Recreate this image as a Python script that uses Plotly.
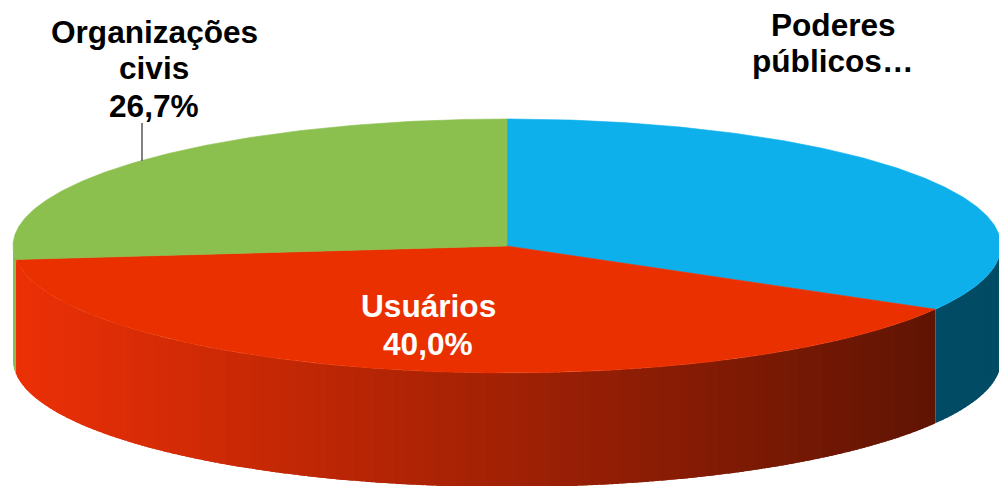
import numpy as np
import plotly.graph_objects as go

# ---- data ----
categories = ["Poderes públicos…", "Usuários", "Organizações civis"]
values = [33.3, 40.0, 26.7]
name_lines = [["Poderes", "públicos…"], ["Usuários"], ["Organizações", "civis"]]
show_pct = [False, True, True]

# ---- style / geometry ----
top_colors = ["#0EB0EC", "#EB3000", "#8BC04F"]
side_colors = [((2, 75, 100), (2, 75, 100)), ((236, 48, 6), (96, 20, 4)), ((134, 186, 74), (134, 186, 74))]
label_colors = ["#000000", "#FFFFFF", "#000000"]
label_x = [833, 428, 154]
label_baselines = [[36, 72], [317, 355], [43, 79, 117]]
FONT = "Liberation Sans, Arial, sans-serif"
FS = 31.6
CX, CY, A, B, DEPTH = 507, 246, 494, 127, 114
X_LEFT, X_RIGHT = 15, 935


def pts(t0, t1, dy=0.0, n=None):
    if n is None:
        n = max(2, int(abs(t0 - t1) * 2) + 1)
    th = np.radians(np.linspace(t0, t1, n))
    return CX + A * np.cos(th), CY - B * np.sin(th) + dy


def mix(c0, c1, f):
    f = min(max(f, 0.0), 1.0)
    return "rgb(%d,%d,%d)" % tuple(round(a + (b - a) * f) for a, b in zip(c0, c1))


fig = go.Figure()
total = sum(values)
angles = []
t = 90.0
for v in values:
    t1 = t - 360.0 * v / total
    angles.append((t, t1))
    t = t1

# side walls (front half only), drawn in overlapping thin strips for gradient
for i, (t0, t1) in enumerate(angles):
    hi, lo = min(t0, 0.0), max(t1, -180.0)
    if hi <= lo:
        continue
    nstrip = max(1, int((hi - lo) / 1.2))
    edges = np.linspace(lo, hi, nstrip + 1)  # left to right
    for k in range(nstrip):
        a0 = edges[k]
        a1 = min(edges[k + 1] + 1.0, hi)
        xt, yt = pts(a0, a1, 0, 6)
        xb, yb = pts(a1, a0, DEPTH, 6)
        xm = CX + A * np.cos(np.radians((edges[k] + edges[k + 1]) / 2))
        c = mix(side_colors[i][0], side_colors[i][1], (xm - X_LEFT) / (X_RIGHT - X_LEFT))
        fig.add_trace(go.Scatter(
            x=np.concatenate([xt, xb, xt[:1]]), y=np.concatenate([yt, yb, yt[:1]]),
            mode="lines", fill="toself", fillcolor=c, line=dict(color=c, width=0),
            hoverinfo="skip", showlegend=False))

# top faces
for i, (t0, t1) in enumerate(angles):
    xa, ya = pts(t0, t1)
    fig.add_trace(go.Scatter(
        x=np.concatenate([[CX], xa, [CX]]), y=np.concatenate([[CY], ya, [CY]]),
        mode="lines", fill="toself", fillcolor=top_colors[i],
        line=dict(color=top_colors[i], width=0.6),
        name=categories[i], hoverinfo="name", showlegend=False))

# labels
for i, cat in enumerate(categories):
    lines = list(name_lines[i])
    if show_pct[i]:
        lines.append(f"{values[i]:.1f}".replace(".", ",") + "%")
    for ln, base in zip(lines, label_baselines[i]):
        fig.add_annotation(x=label_x[i], y=base - 11, text=f"<b>{ln}</b>", showarrow=False,
                           xanchor="center", yanchor="middle",
                           font=dict(family=FONT, size=FS, color=label_colors[i]))

# leader line for Organizações civis
fig.add_shape(type="line", x0=142, y0=123, x1=142, y1=161,
              line=dict(color="#595959", width=1.5))

fig.update_xaxes(range=[0, 999], visible=False, fixedrange=True)
fig.update_yaxes(range=[486, 0], visible=False, fixedrange=True)
fig.update_layout(width=999, height=486, margin=dict(l=0, r=0, t=0, b=0),
                  paper_bgcolor="white", plot_bgcolor="white")
fig.write_html("out.html", config={"displayModeBar": False},
               post_script="document.body.style.margin='0';document.body.style.overflow='hidden';")
